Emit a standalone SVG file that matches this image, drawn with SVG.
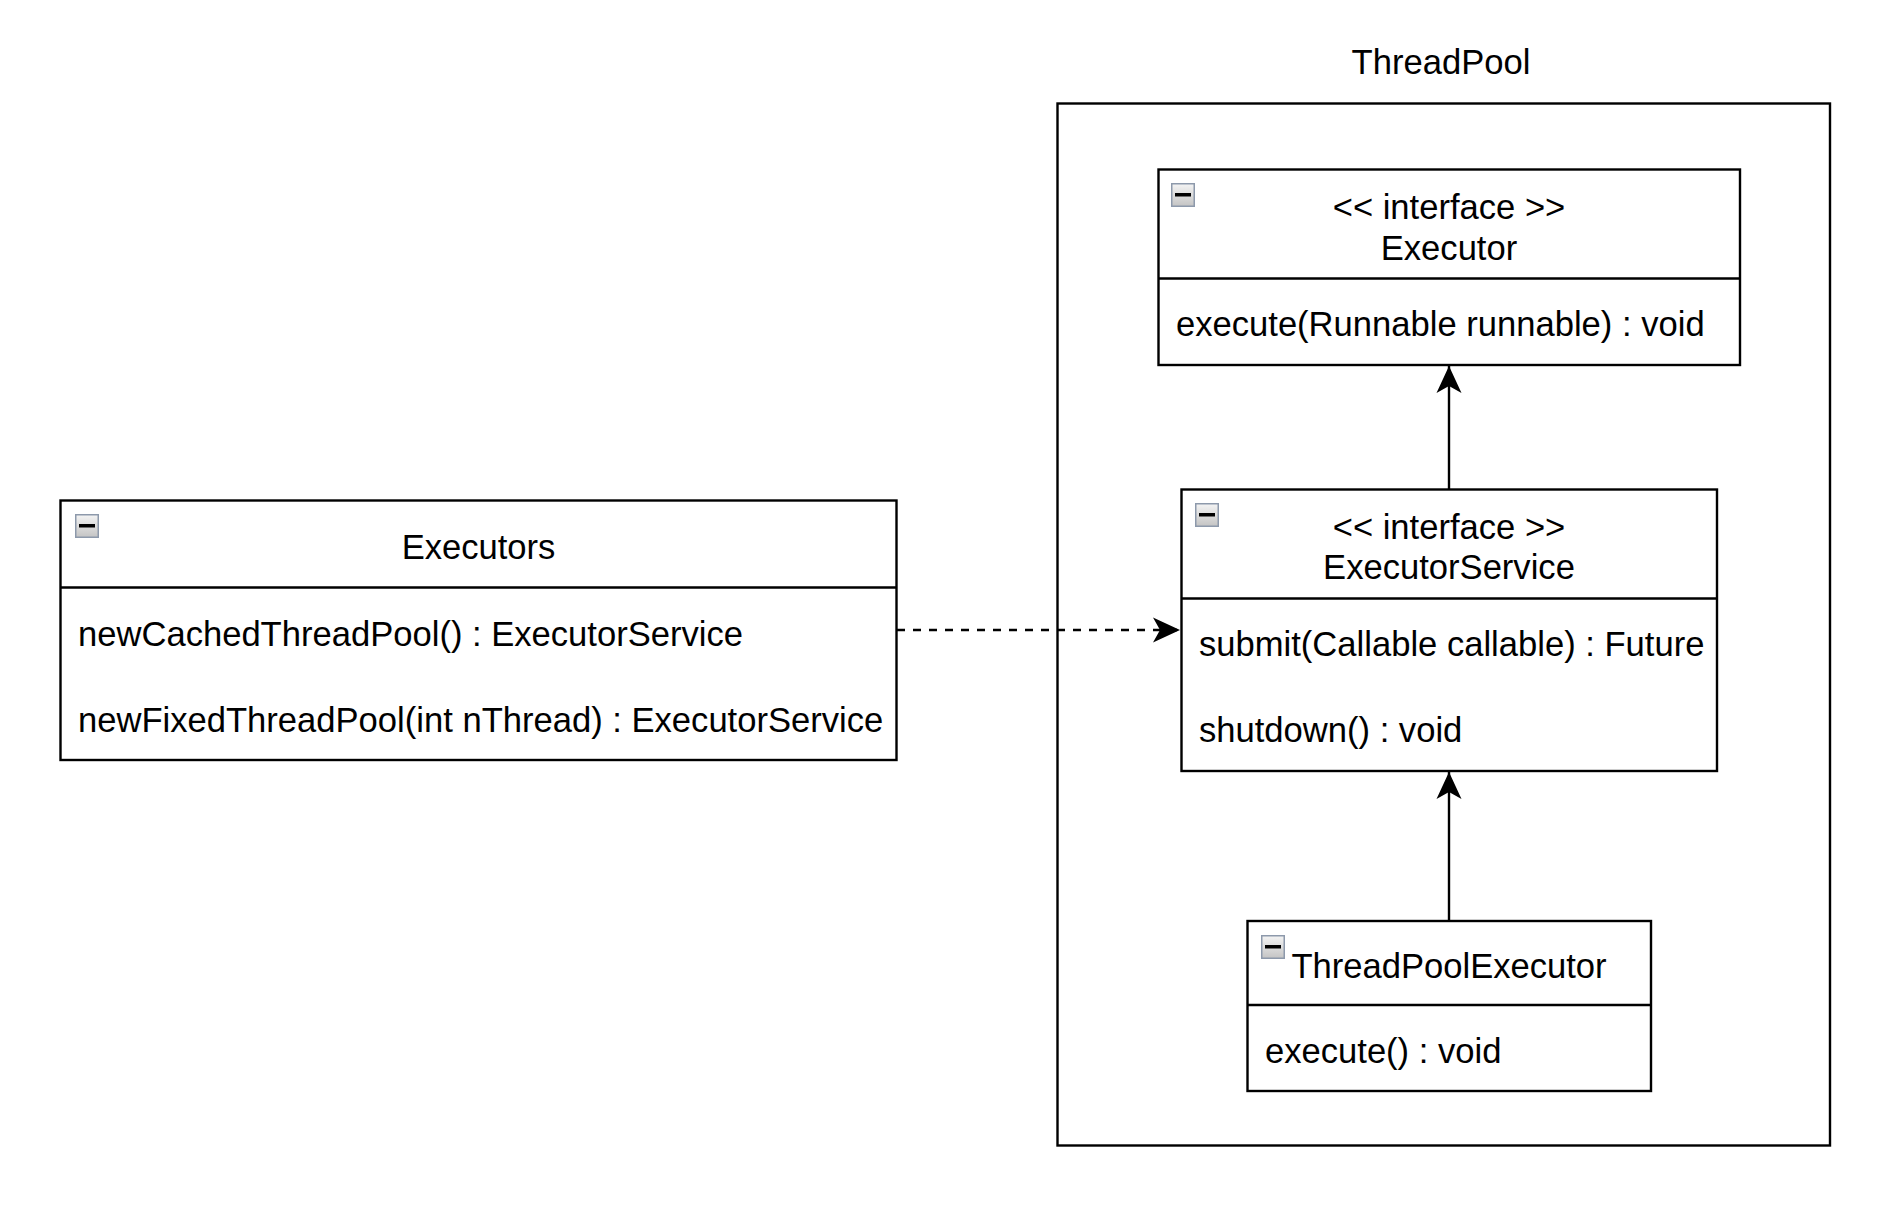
<svg xmlns="http://www.w3.org/2000/svg" width="1904" height="1222" viewBox="0 0 1904 1222">
<style>
.box{fill:#ffffff;stroke:#000000;stroke-width:2.4}
.div{stroke:#000000;stroke-width:2.4}
.t{font-family:"Liberation Sans",Arial,Helvetica,sans-serif;font-size:34.6px;fill:#000000}
.c{text-anchor:middle}
.edge{fill:none;stroke:#000000;stroke-width:2.4}
.dash{stroke-dasharray:8 8}
</style>
<defs>
<linearGradient id="ig" x1="0" y1="0" x2="0" y2="1">
<stop offset="0" stop-color="#f4f4f4"/>
<stop offset="1" stop-color="#c4c4c4"/>
</linearGradient>
<g id="icon">
<rect x="0.75" y="0.75" width="22.5" height="22.5" fill="url(#ig)" stroke="#8d99ab" stroke-width="1.5"/>
<rect x="4" y="10" width="16" height="3.5" fill="#000000"/>
</g>
<marker id="arr" markerUnits="userSpaceOnUse" markerWidth="30" markerHeight="30" viewBox="-2 -14 30 28" refX="26" refY="0" orient="auto">
<path d="M26,0 L-1,-12.5 L6,0 L-1,12.5 Z" fill="#000000"/>
</marker>
</defs>

<g id="threadpool">
<rect class="box" x="1057.5" y="103.5" width="772.5" height="1042"/>
<text class="t c" x="1441" y="74">ThreadPool</text>
</g>

<g id="executor">
<rect class="box" x="1158.5" y="169.5" width="581.5" height="195.5"/>
<line class="div" x1="1158.5" y1="278.5" x2="1740" y2="278.5"/>
<use href="#icon" x="1171" y="183"/>
<text class="t c" x="1449" y="219">&lt;&lt; interface &gt;&gt;</text>
<text class="t c" x="1449" y="259.5">Executor</text>
<text class="t" x="1176" y="335.5">execute(Runnable runnable) : void</text>
</g>

<g id="executorservice">
<rect class="box" x="1181.5" y="489.5" width="535.5" height="281.5"/>
<line class="div" x1="1181.5" y1="598.5" x2="1717" y2="598.5"/>
<use href="#icon" x="1195" y="503"/>
<text class="t c" x="1449" y="538.5">&lt;&lt; interface &gt;&gt;</text>
<text class="t c" x="1449" y="578.5">ExecutorService</text>
<text class="t" x="1199" y="655.5">submit(Callable callable) : Future</text>
<text class="t" x="1199" y="742">shutdown() : void</text>
</g>

<g id="threadpoolexecutor">
<rect class="box" x="1247.5" y="921" width="403.5" height="170"/>
<line class="div" x1="1247.5" y1="1005" x2="1651" y2="1005"/>
<use href="#icon" x="1261" y="935"/>
<text class="t c" x="1449" y="978">ThreadPoolExecutor</text>
<text class="t" x="1265" y="1063">execute() : void</text>
</g>

<g id="executors">
<rect class="box" x="60.5" y="500.5" width="836" height="259.5"/>
<line class="div" x1="60.5" y1="587.5" x2="896.5" y2="587.5"/>
<use href="#icon" x="75" y="514"/>
<text class="t c" x="478.5" y="558.5">Executors</text>
<text class="t" x="78" y="645.5">newCachedThreadPool() : ExecutorService</text>
<text class="t" x="78" y="731.5">newFixedThreadPool(int nThread) : ExecutorService</text>
</g>

<g id="connectors">
<line class="edge" x1="1449" y1="489" x2="1449" y2="366" marker-end="url(#arr)"/>
<line class="edge" x1="1449" y1="921" x2="1449" y2="772" marker-end="url(#arr)"/>
<line class="edge dash" x1="897" y1="630" x2="1180" y2="630" marker-end="url(#arr)"/>
</g>
</svg>
